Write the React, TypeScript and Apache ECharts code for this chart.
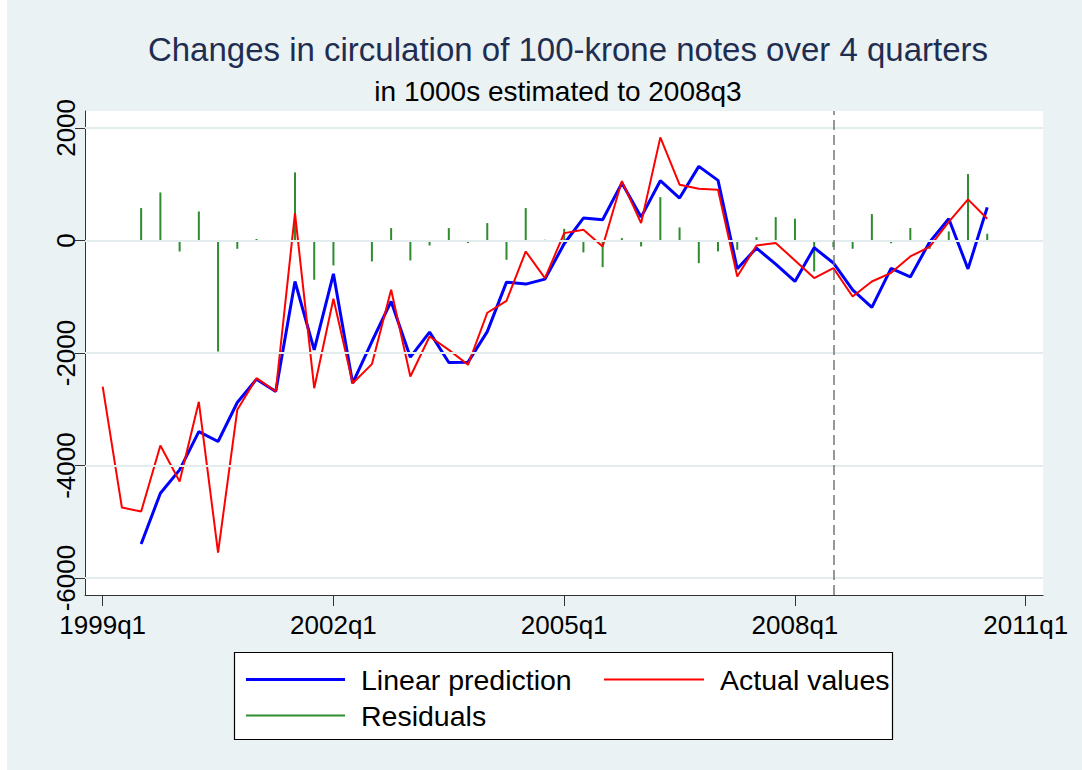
import React, { useEffect, useRef } from "react";
import * as echarts from "echarts";

// quarter index 0 = 1999q1
const actualValues = [-2596, -4747, -4818, -3644, -4284, -2868, -5547, -3010, -2447, -2684, 486, -2625, -1037, -2536, -2198, -877, -2418, -1707, -1944, -2210, -1285, -1073, -196, -670, 130, 190, -107, 1055, 308, 1831, 990, 918, 901, -640, -89, -45, -355, -669, -491, -995, -729, -575, -284, -115, 330, 730, 386];
const linearPrediction = [null, null, -5393, -4492, -4077, -3396, -3573, -2880, -2465, -2684, -729, -1944, -593, -2536, -1796, -1084, -2074, -1630, -2169, -2163, -1620, -741, -776, -687, -59, 397, 367, 1019, 415, 1061, 753, 1316, 1067, -504, -136, -420, -729, -130, -400, -877, -1188, -497, -648, -30, 386, -506, 587];
const residuals = [null, null, 575, 853, -196, 515, -1973, -148, 24, -18, 1209, -699, -444, 0, -373, 219, -356, -89, 219, -47, 308, -344, 575, 12, 207, -213, -474, 41, -107, 770, 231, -403, -195, -166, 59, 415, 386, -551, -118, -148, 469, -50, 220, -150, 160, 1179, 119];
const xTicks = [0, 12, 24, 36, 48];
const yTicks = [-6000, -4000, -2000, 0, 2000];
const estimationEnd = 38; // 2008q3

const FONT = "'Liberation Sans', Arial, sans-serif";

const qLabel = (i: number) => `${1999 + Math.floor(i / 4)}q${(i % 4) + 1}`;

export default function App() {
  const ref = useRef<HTMLDivElement>(null);
  useEffect(() => {
    const chart = echarts.init(ref.current!, null, { renderer: "svg" });
    const pairs = (arr: (number | null)[]) =>
      arr.map((v, i) => [i, v]).filter((p) => p[1] !== null);
    const legendText = { fontSize: 28.5, color: "#000", padding: [0, 0, 0, 11], fontFamily: FONT };
    chart.setOption({
      animation: false,
      backgroundColor: "#eaf2f3",
      textStyle: { fontFamily: FONT },
      title: [
        {
          text: "Changes in circulation of 100-krone notes over 4 quarters",
          left: 568,
          top: 33,
          textAlign: "center",
          padding: 0,
          textStyle: { fontSize: 33, fontWeight: "normal", color: "#1f2d50", fontFamily: FONT },
        },
        {
          text: "in 1000s estimated to 2008q3",
          left: 558,
          top: 77,
          textAlign: "center",
          padding: 0,
          textStyle: { fontSize: 28, fontWeight: "normal", color: "#000", fontFamily: FONT },
        },
      ],
      grid: {
        left: 85,
        top: 111,
        width: 958,
        height: 484,
        show: true,
        backgroundColor: "#ffffff",
        borderWidth: 0,
      },
      xAxis: {
        type: "value",
        min: -0.92,
        max: 48.9,
        splitLine: { show: false },
        axisLine: { show: true, onZero: false, lineStyle: { color: "#333", width: 1 } },
        axisTick: { show: true, customValues: xTicks, length: 11, lineStyle: { color: "#333" } },
        axisLabel: {
          customValues: xTicks,
          formatter: (v: number) => qLabel(Math.round(v)),
          fontSize: 26,
          color: "#000",
          margin: 17,
          fontFamily: FONT,
        },
      },
      yAxis: {
        type: "value",
        min: -6300,
        max: 2300,
        splitLine: { show: false },
        axisLine: { show: true, onZero: false, lineStyle: { color: "#333", width: 1 } },
        axisTick: { show: true, customValues: yTicks, length: 10, lineStyle: { color: "#333" } },
        axisLabel: {
          customValues: yTicks,
          formatter: (v: number) => String(v),
          rotate: 90,
          fontSize: 26,
          color: "#000",
          margin: 6,
          fontFamily: FONT,
        },
      },
      legend: [
        {
          data: ["Linear prediction"],
          left: 246,
          top: 665,
          icon: "rect",
          itemWidth: 99,
          itemHeight: 3,
          padding: 0,
          textStyle: legendText,
        },
        {
          data: ["Actual values"],
          left: 604,
          top: 665,
          icon: "rect",
          itemWidth: 100,
          itemHeight: 2,
          padding: 0,
          textStyle: legendText,
        },
        {
          data: ["Residuals"],
          left: 246,
          top: 701,
          icon: "rect",
          itemWidth: 99,
          itemHeight: 2,
          padding: 0,
          textStyle: legendText,
        },
      ],
      graphic: [
        {
          type: "rect",
          shape: { x: 0, y: 0, width: 7, height: 770 },
          style: { fill: "#ffffff" },
          silent: true,
        },
        {
          type: "rect",
          shape: { x: 234.5, y: 652.5, width: 658, height: 87 },
          style: { fill: "#ffffff", stroke: "#000", lineWidth: 1.2 },
          silent: true,
        },
      ],
      series: [
        {
          name: "grid",
          type: "line",
          data: [],
          z: 1,
          silent: true,
          markLine: {
            silent: true,
            symbol: ["none", "none"],
            label: { show: false },
            lineStyle: { type: "solid", color: "#e3eced", width: 2 },
            data: yTicks.map((v) => ({ yAxis: v })),
          },
        },
        {
          name: "Residuals",
          type: "bar",
          data: pairs(residuals),
          barWidth: 2,
          itemStyle: { color: "#2e8b2e" },
          z: 2,
        },
        {
          name: "Linear prediction",
          type: "line",
          data: pairs(linearPrediction),
          symbol: "none",
          lineStyle: { color: "#0000ff", width: 3 },
          itemStyle: { color: "#0000ff" },
          z: 3,
          markLine: {
            silent: true,
            symbol: ["none", "none"],
            label: { show: false },
            lineStyle: { type: [10, 5], color: "#777", width: 1.5 },
            data: [{ xAxis: estimationEnd }],
          },
        },
        {
          name: "Actual values",
          type: "line",
          data: pairs(actualValues),
          symbol: "none",
          lineStyle: { color: "#ff0000", width: 2 },
          itemStyle: { color: "#ff0000" },
          z: 4,
        },
      ],
    });
    return () => chart.dispose();
  }, []);
  return (
    <div
      ref={ref}
      style={{ position: "absolute", left: 0, top: 0, width: 1082, height: 770 }}
    />
  );
}
